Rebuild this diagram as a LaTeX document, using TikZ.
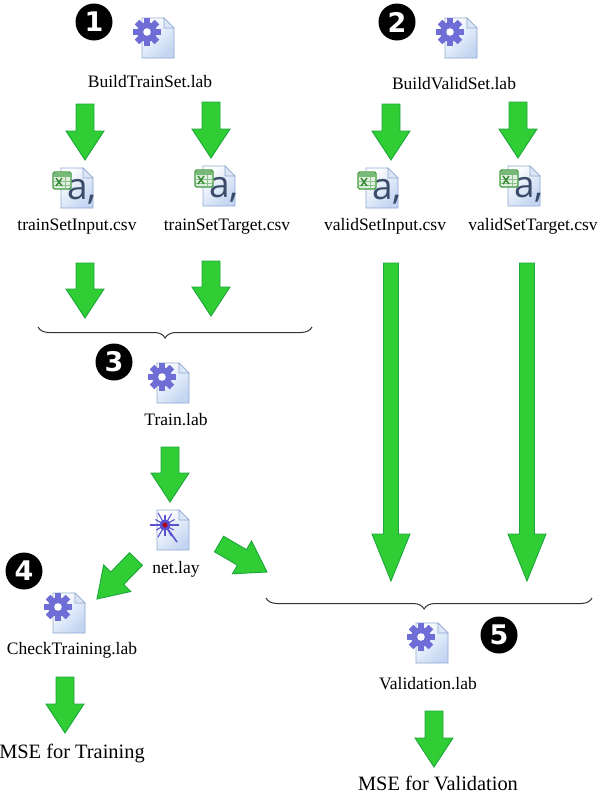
\documentclass[tikz,border=0pt]{standalone}
\usepackage{fontspec}
\setmainfont{Liberation Serif}
\newfontfamily\badgefam{DejaVu Sans}
\newfontfamily\iconfam{Open Sans}
\usepackage{xcolor}
\usepackage{tikz}
\usetikzlibrary{calc,positioning,decorations.pathreplacing}
\definecolor{flowgreen}{HTML}{30CD35}
\definecolor{flowedge}{HTML}{1DA63A}
\definecolor{gearblue}{HTML}{6E6ED6}
\definecolor{pageedge}{HTML}{8FA8CF}
\definecolor{pagepale}{HTML}{C3D5F2}
\definecolor{foldpale}{HTML}{DCE6F6}
\definecolor{xlgreen}{HTML}{3E9A3E}
\definecolor{inkblue}{HTML}{3B4C6B}
\definecolor{neuron}{HTML}{5A50D0}
\definecolor{bracegray}{HTML}{333333}
\tikzset{
  lbl/.style    ={inner sep=0pt,text height=12pt,text depth=4pt,
                  font=\fontsize{17.5}{20}\selectfont},
  result/.style ={inner sep=0pt,text height=14pt,text depth=0pt,
                  font=\fontsize{20.4}{24}\selectfont},
  badge/.style  ={circle,fill=black,text=white,minimum size=37pt,inner sep=0pt,
                  font=\fontsize{27}{27}\badgefam\bfseries},
  iconspot/.style={minimum width=32pt,minimum height=40pt,inner sep=0pt},
  bracket/.style={draw=bracegray,line width=1pt,
                  decorate,decoration={brace,amplitude=11pt,mirror,aspect=#1}},
  flow/.style 2 args={draw=flowedge,fill=flowgreen,line width=0.9pt,line join=miter,
    to path={
      -- ($(\tikztostart)!#2!90:(\tikztotarget)$)
      -- ($(\tikztotarget)!#1!(\tikztostart)!#2!-90:(\tikztostart)$)
      -- ($(\tikztotarget)!#1!(\tikztostart)!19pt!-90:(\tikztostart)$)
      -- (\tikztotarget)
      -- ($(\tikztotarget)!#1!(\tikztostart)!19pt!90:(\tikztostart)$)
      -- ($(\tikztotarget)!#1!(\tikztostart)!#2!90:(\tikztostart)$)
      -- ($(\tikztostart)!#2!-90:(\tikztotarget)$)
      -- cycle}},
  pics/pagesheet/.style={code={
    \draw[pageedge,line width=0.8pt,shade,top color=white,bottom color=pagepale,
          shading angle=45]
      (-16,-20) -- (6,-20) -- (16,-10) -- (16,20) -- (-16,20) -- cycle;
    \draw[pageedge,line width=0.6pt,fill=foldpale] (6,-20) -- (6,-10) -- (16,-10) -- cycle;
  }},
  pics/labicon/.style={code={
    \pic {pagesheet};
    \foreach \a in {0,45,...,315}
      \fill[gearblue,rotate around={\a:(-11,-6)}] (-14.2,-20) rectangle (-7.8,-13);
    \fill[gearblue] (-11,-6) circle (9.8);
    \fill[white] (-11,-6) circle (3.8);
  }},
  pics/csvicon/.style={code={
    \pic {pagesheet};
    \node[inner sep=0pt,text=inkblue,font=\fontsize{37}{37}\iconfam] at (5,4) {a,};
    \draw[xlgreen,line width=1.2pt,fill=xlgreen!15,rounded corners=1.5pt] (-24,-16) rectangle (-6,1);
    \fill[xlgreen!70] (-23,-15) rectangle (-7,-11);
    \draw[xlgreen!60,line width=0.5pt] (-23,-7) -- (-7,-7) (-23,-3) -- (-7,-3) (-12,-11) -- (-12,0);
    \draw[xlgreen!90!black,line width=1.5pt] (-21,-10) -- (-15,-2) (-15,-10) -- (-21,-2);
  }},
  pics/layicon/.style={code={
    \pic {pagesheet};
    \foreach \a/\r in {0/14,30/10,60/13,90/11,120/14,150/10,180/15,210/11,240/14,270/10,300/13,330/11}
      \draw[neuron,line width=1.1pt] (-8,-5) -- ++(\a:\r);
    \draw[neuron,line width=1.6pt] (-8,-5) -- (4,12);
    \fill[neuron] (-8,-5) circle (5.5);
    \fill[red!70!black] (-8,-5) circle (2.4);
  }}
}
\begin{document}
\begin{tikzpicture}[x=1pt,y=-1pt]
  \useasboundingbox (0,0) rectangle (599,795);
  \foreach \nm/\x/\y in {buildtrain/158/38,buildvalid/461/38,train/173/383,check/69/613,validation/432/643}{
    \node[iconspot] (\nm) at (\x,\y) {};
    \pic at (\nm) {labicon};
  }
  \foreach \nm/\x/\y in {traininput/77/188,traintarget/219/186,validinput/382/188,validtarget/524/186}{
    \node[iconspot] (\nm) at (\x,\y) {};
    \pic at (\nm) {csvicon};
  }
  \node[iconspot] (net) at (173,530) {};
  \pic at (net) {layicon};

  \node[lbl,below=17pt of buildtrain,xshift=-8pt] (buildtrainlbl) {BuildTrainSet.lab};
  \node[lbl,below=19pt of buildvalid,xshift=-7pt] (buildvalidlbl) {BuildValidSet.lab};
  \node[lbl,below=10pt of traininput] (traininputlbl) {trainSetInput.csv};
  \node[lbl,below=12pt of traintarget,xshift=8pt] (traintargetlbl) {trainSetTarget.csv};
  \node[lbl,below=10pt of validinput,xshift=3pt] (validinputlbl) {validSetInput.csv};
  \node[lbl,below=12pt of validtarget,xshift=9pt] (validtargetlbl) {validSetTarget.csv};
  \node[lbl,below=10pt of train,xshift=3pt] (trainlbl) {Train.lab};
  \node[lbl,below=11pt of net,xshift=3pt] (netlbl) {net.lay};
  \node[lbl,below=9pt of check,xshift=3pt] (checklbl) {CheckTraining.lab};
  \node[lbl,below=14pt of validation,xshift=-4pt] (validationlbl) {Validation.lab};
  \node[result] (msetrain) at (72,751) {MSE for Training};
  \node[result] (mseval) at (438,783.5) {MSE for Validation};

  \node[badge] (one) at (94,22) {1};
  \node[badge] (two) at (397,22) {2};
  \node[badge] (three) at (114,362) {3};
  \node[badge] (four) at (24,571) {4};
  \node[badge] (five) at (499,635) {5};

  \coordinate (bl1) at (38,327);
  \coordinate (br1) at (312,327);
  \coordinate (bl2) at (266,598);
  \coordinate (br2) at (592,598);
  \draw[bracket=.464] (bl1) -- (br1);
  \draw[bracket=.485] (bl2) -- (br2);

  \foreach \nm/\xa/\ya/\xb/\yb/\hl/\hw in {
    a/85/104/85/160/29pt/9pt,b/211/102/211/158/29pt/9pt,
    c/391/104/391/160/29pt/9pt,d/518/102/518/158/29pt/9pt,
    e/85/263/85/318/29pt/9pt,f/211/261/211/316/29pt/9pt,
    g/391/263/391/581/47pt/7.5pt,h/527/263/527/581/47pt/7.5pt,
    i/170/447/170/502/29pt/9pt,j/136/559/97/599/29pt/9pt,k/219/544/267/572/29pt/9pt,
    l/65/677/65/733/29pt/9pt,m/434/711/434/767/29pt/9pt}{
    \coordinate (\nm from) at (\xa,\ya);
    \coordinate (\nm to) at (\xb,\yb);
    \draw[flow={\hl}{\hw}] (\nm from) to (\nm to);
  }
\end{tikzpicture}
\end{document}
